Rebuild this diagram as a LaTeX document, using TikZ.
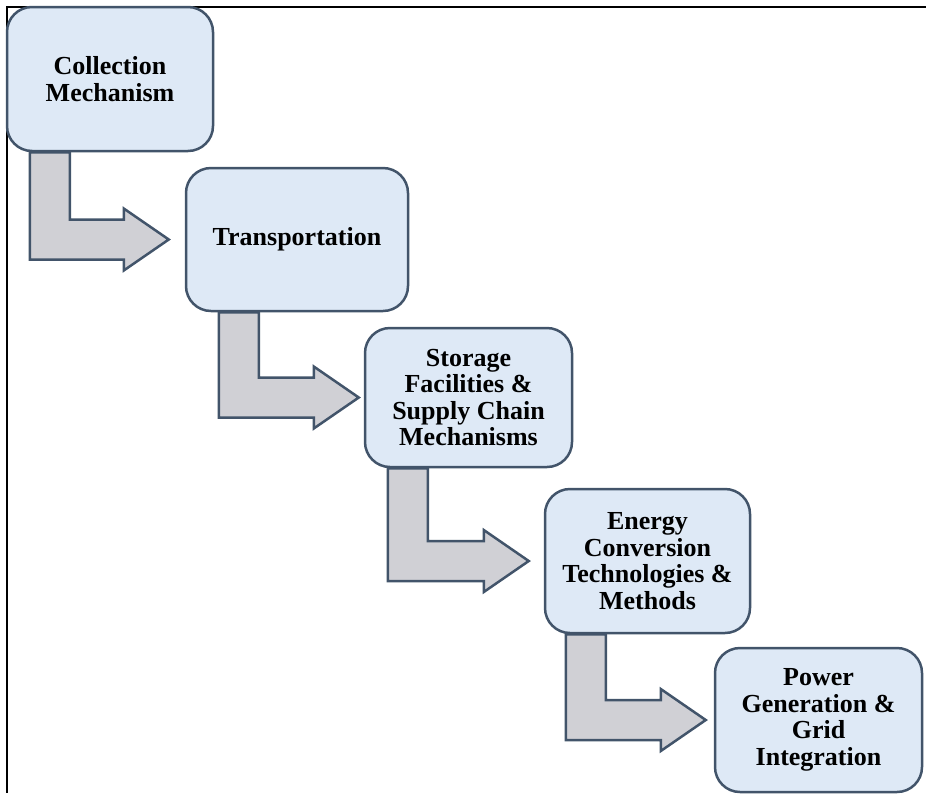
\documentclass[tikz,border=0pt]{standalone}
\usepackage{fontspec}
\setmainfont{Liberation Serif}
\usepackage{tikz}
\usetikzlibrary{calc}
\usepackage{xcolor}
\definecolor{boxfill}{RGB}{222,233,246}
\definecolor{edgeblue}{RGB}{66,84,106}
\definecolor{arrowgray}{RGB}{208,208,213}
\tikzstyle{stage}=[draw=edgeblue, fill=boxfill, rounded corners=25pt, line width=2.5pt, text=black, align=center, inner sep=0pt, font=\bfseries\fontsize{26}{26.5}\selectfont]
\tikzstyle{flow}=[draw=edgeblue, fill=arrowgray, line width=2.5pt, line join=miter]

\begin{document}
\begin{tikzpicture}[x=1pt,y=-1pt]%

	\useasboundingbox (0,0) rectangle (926,793);

	% frame
	\draw [line width=2pt]   (6,7) -- (926,7);
	\draw [line width=2.5pt] (7,6) -- (7,793);

	\begin{scope}
		\draw  (110,79)    node (Stage_1) [stage, minimum width=206pt, minimum height=144pt] {Collection\\Mechanism};
		\draw  (297,239.5) node (Stage_2) [stage, minimum width=222pt, minimum height=143pt] {Transportation};
		\draw  (468.5,397.5) node (Stage_3) [stage, minimum width=207pt, minimum height=139pt] {Storage\\Facilities \&\\Supply Chain\\Mechanisms};
		\draw  (647.5,561) node (Stage_4) [stage, minimum width=205pt, minimum height=144pt] {Energy\\Conversion\\Technologies \&\\Methods};
		\draw  (818.5,720) node (Stage_5) [stage, minimum width=207pt, minimum height=144pt] {Power\\Generation \&\\Grid\\Integration};

		% bent block arrows
		\draw [flow] let \p1=(Stage_1.south west), \p2=(Stage_2.west) in
			(\x1+24pt,\y1) -- (\x1+64pt,\y1) -- (\x1+64pt,\y2+20pt) -- (\x2-61pt,\y2+20pt)
			-- (\x2-61pt,\y2+31pt) -- (\x2-16pt,\y2) -- (\x2-61pt,\y2-31pt)
			-- (\x2-61pt,\y2-20pt) -- (\x1+24pt,\y2-20pt) -- cycle;
		\draw [flow] let \p1=(Stage_2.south west), \p2=(Stage_3.west) in
			(\x1+34pt,\y1) -- (\x1+74pt,\y1) -- (\x1+74pt,\y2+20pt) -- (\x2-50pt,\y2+20pt)
			-- (\x2-50pt,\y2+31pt) -- (\x2-5pt,\y2) -- (\x2-50pt,\y2-31pt)
			-- (\x2-50pt,\y2-20pt) -- (\x1+34pt,\y2-20pt) -- cycle;
		\draw [flow] let \p1=(Stage_3.south west), \p2=(Stage_4.west) in
			(\x1+24pt,\y1) -- (\x1+64pt,\y1) -- (\x1+64pt,\y2+20pt) -- (\x2-60pt,\y2+20pt)
			-- (\x2-60pt,\y2+31pt) -- (\x2-15pt,\y2) -- (\x2-60pt,\y2-31pt)
			-- (\x2-60pt,\y2-20pt) -- (\x1+24pt,\y2-20pt) -- cycle;
		\draw [flow] let \p1=(Stage_4.south west), \p2=(Stage_5.west) in
			(\x1+22pt,\y1) -- (\x1+62pt,\y1) -- (\x1+62pt,\y2+20pt) -- (\x2-53pt,\y2+20pt)
			-- (\x2-53pt,\y2+31pt) -- (\x2-8pt,\y2) -- (\x2-53pt,\y2-31pt)
			-- (\x2-53pt,\y2-20pt) -- (\x1+22pt,\y2-20pt) -- cycle;
	\end{scope}

\end{tikzpicture}
\end{document}
